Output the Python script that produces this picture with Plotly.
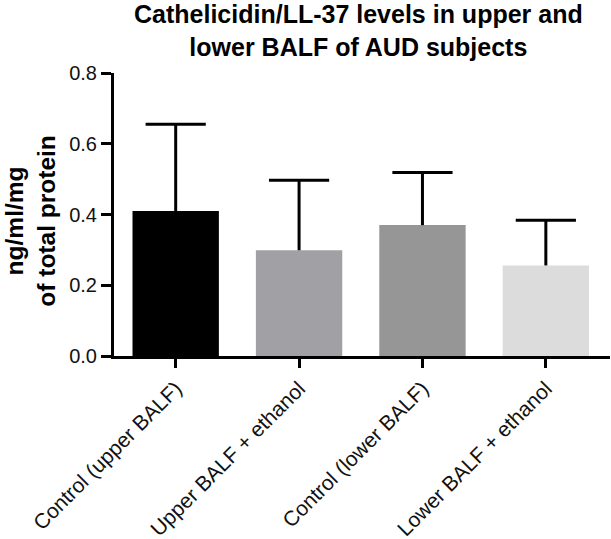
import plotly.graph_objects as go

categories = ["Control (upper BALF)", "Upper BALF + ethanol", "Control (lower BALF)", "Lower BALF + ethanol"]
means = [0.41, 0.299, 0.370, 0.256]
errors_up = [0.245, 0.198, 0.149, 0.128]
bar_colors = ["#000000", "#a1a1a5", "#969696", "#dcdcdc"]
y_ticks = [0.0, 0.2, 0.4, 0.6, 0.8]

upper = [m + e for m, e in zip(means, errors_up)]

fig = go.Figure()
fig.add_trace(go.Bar(
    x=categories,
    y=means,
    width=0.7,
    marker=dict(color=bar_colors, line=dict(width=0)),
    error_y=dict(type="data", array=errors_up, arrayminus=[0] * len(means),
                 symmetric=False, color="#000000", thickness=3, width=0),
    showlegend=False,
))
# caps of the (upward-only) error bars
fig.add_trace(go.Scatter(
    x=categories,
    y=upper,
    mode="markers",
    marker=dict(symbol="line-ew-open", size=43, color="#000000",
                line=dict(width=3, color="#000000")),
    showlegend=False, hoverinfo="skip",
))

font_family = "Liberation Sans, Arial, sans-serif"

fig.update_layout(
    width=611, height=539,
    margin=dict(l=114, r=1, t=73, b=183, pad=0),
    paper_bgcolor="white", plot_bgcolor="white",
    font=dict(family=font_family, color="#111111"),
    xaxis=dict(
        range=[-0.5, 3.52], automargin=False,
        showline=True, linecolor="#000000", linewidth=3,
        ticks="outside", ticklen=9, tickwidth=3, tickcolor="#000000",
        tickangle=-45,
        tickfont=dict(size=21, color="#111111"),
        showgrid=False, zeroline=False,
    ),
    yaxis=dict(
        range=[0, 0.8], automargin=False,
        tickvals=y_ticks, tickformat=".1f",
        showline=True, linecolor="#000000", linewidth=3,
        ticks="outside", ticklen=10, tickwidth=3, tickcolor="#000000",
        tickfont=dict(size=20, color="#111111"),
        showgrid=False, zeroline=False,
    ),
    annotations=[
        dict(
            text="<b>Cathelicidin/LL-37 levels in upper and<br>lower BALF of AUD subjects</b>",
            xref="paper", yref="paper",
            x=(358 - 114) / 496, y=(356 - 30.5) / 283,
            xanchor="center", yanchor="middle", showarrow=False,
            font=dict(size=25, color="#000000", family=font_family),
        ),
        dict(
            text="<b>ng/ml/mg<br>of total protein</b>",
            xref="paper", yref="paper",
            x=-0.170, y=0.477,
            xanchor="center", yanchor="middle",
            textangle=-90, showarrow=False, borderpad=0,
            font=dict(size=24.5, color="#000000", family=font_family),
        ),
    ],
)

fig.write_html(
    "out.html",
    config={"displayModeBar": False},
    post_script="document.body.style.margin='0';document.body.style.padding='0';",
)
